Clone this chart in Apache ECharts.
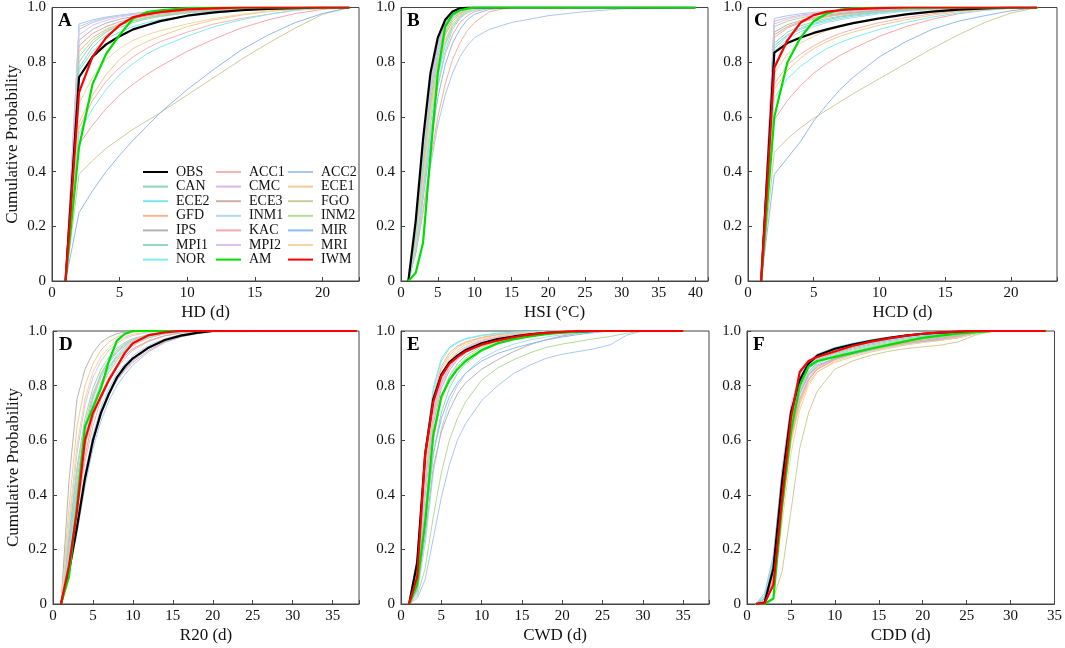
<!DOCTYPE html>
<html>
<head>
<meta charset="utf-8">
<script src="https://cdn.jsdelivr.net/npm/echarts@6/dist/echarts.min.js"></script>
<style>
  html, body { margin: 0; padding: 0; background: #fff; }
  #main { width: 1065px; height: 648px; }
</style>
</head>
<body>
<div id="main"></div>
<script>
// model order as in the legend (row by row)
var models = ['OBS','ACC1','ACC2','CAN','CMC','ECE1','ECE2','ECE3','FGO','GFD','INM1','INM2','IPS','KAC','MIR','MPI1','MPI2','MRI','NOR','AM','IWM'];

var colors = {
    OBS: '#000000', ACC1: '#f5b4b4', ACC2: '#a8c8ee', CAN: '#8ad4bd', CMC: '#dab6e6',
    ECE1: '#f2cc92', ECE2: '#78e6ec', ECE3: '#d2aea6', FGO: '#cccc98', GFD: '#f6b48e',
    INM1: '#b2d8ea', INM2: '#b2dc96', IPS: '#b4b4b4', KAC: '#f6a6ab', MIR: '#90baf0',
    MPI1: '#94d6c2', MPI2: '#dcc2f2', MRI: '#f0d6a0', NOR: '#84eaee', AM: '#00e000', IWM: '#ff0000'
};

// ---- A: HD ----
var hdX = [1,2,3,4,5,6,7,8,10,12,14,16,18,20,22];
var hd = {
    OBS:  [0,0.745,0.82,0.865,0.895,0.92,0.935,0.95,0.97,0.982,0.99,0.995,0.998,1],
    ACC1: [0,0.56,0.66,0.73,0.78,0.82,0.85,0.875,0.91,0.94,0.96,0.975,0.99,0.997],
    ACC2: [0,0.94,0.955,0.965,0.972,0.978,0.983,0.987,0.993,0.997],
    CAN:  [0,0.80,0.87,0.91,0.935,0.95,0.962,0.97,0.982,0.99,0.995,0.998],
    CMC:  [0,0.92,0.945,0.96,0.97,0.977,0.982,0.986,0.992,0.996,0.999],
    ECE1: [0,0.58,0.68,0.755,0.81,0.85,0.875,0.895,0.93,0.955,0.972,0.985,0.993,0.998],
    ECE2: [0,0.77,0.84,0.885,0.91,0.93,0.945,0.955,0.97,0.98,0.988,0.994,0.998],
    ECE3: [0,0.86,0.905,0.93,0.948,0.96,0.968,0.975,0.985,0.992,0.996,0.999],
    FGO:  [0,0.39,0.44,0.485,0.52,0.555,0.585,0.615,0.68,0.745,0.81,0.87,0.925,0.975],
    GFD:  [0,0.84,0.89,0.92,0.94,0.953,0.963,0.97,0.982,0.99,0.995,0.998],
    INM1: [0,0.93,0.95,0.962,0.97,0.976,0.981,0.985,0.991,0.995,0.998],
    INM2: [0,0.82,0.88,0.915,0.937,0.952,0.963,0.971,0.983,0.99,0.995,0.998],
    IPS:  [0,0.88,0.92,0.943,0.957,0.967,0.974,0.98,0.988,0.993,0.997],
    KAC:  [0,0.50,0.57,0.63,0.68,0.72,0.755,0.785,0.84,0.885,0.925,0.955,0.978,0.993],
    MIR:  [0,0.25,0.33,0.40,0.46,0.515,0.565,0.615,0.70,0.775,0.845,0.90,0.945,0.978],
    MPI1: [0,0.78,0.855,0.9,0.927,0.945,0.958,0.967,0.98,0.988,0.994,0.998],
    MPI2: [0,0.90,0.935,0.953,0.965,0.973,0.979,0.984,0.99,0.995,0.998],
    MRI:  [0,0.65,0.745,0.81,0.85,0.88,0.9,0.915,0.94,0.96,0.975,0.987,0.995],
    NOR:  [0,0.54,0.63,0.70,0.755,0.795,0.83,0.855,0.895,0.93,0.955,0.975,0.99,0.997],
    AM:   [0,0.49,0.72,0.83,0.90,0.96,0.983,0.99,0.998],
    IWM:  [0,0.69,0.82,0.89,0.935,0.965,0.975,0.983,0.993,0.997]
};

// ---- B: HSI ----
var hsiX = [1,2,3,4,5,6,7,8,9,10,12,15,20,25,30,40];
var hsi = {
    OBS:  [0,0.22,0.52,0.76,0.89,0.955,0.985,0.997],
    ACC1: [0,0.15,0.40,0.64,0.80,0.90,0.95,0.975,0.99,0.996],
    ACC2: [0,0.10,0.25,0.42,0.57,0.68,0.76,0.82,0.86,0.89,0.92,0.945,0.97,0.985,0.995],
    CAN:  [0,0.18,0.45,0.70,0.85,0.93,0.97,0.99,0.997],
    CMC:  [0,0.20,0.48,0.72,0.86,0.94,0.975,0.99],
    ECE1: [0,0.14,0.38,0.62,0.78,0.88,0.94,0.97,0.985,0.993],
    ECE2: [0,0.12,0.34,0.57,0.75,0.86,0.93,0.965,0.985,0.993],
    ECE3: [0,0.16,0.42,0.66,0.82,0.91,0.96,0.98,0.993],
    FGO:  [0,0.13,0.36,0.60,0.77,0.87,0.93,0.965,0.983,0.992],
    GFD:  [0,0.10,0.26,0.44,0.60,0.72,0.81,0.87,0.915,0.945,0.985],
    INM1: [0,0.17,0.43,0.68,0.83,0.92,0.965,0.985,0.995],
    INM2: [0,0.15,0.40,0.64,0.80,0.90,0.95,0.978,0.99,0.997],
    IPS:  [0,0.20,0.50,0.74,0.87,0.945,0.98,0.993],
    KAC:  [0,0.12,0.32,0.54,0.71,0.83,0.90,0.945,0.97,0.985,0.997],
    MIR:  [0,0.11,0.30,0.50,0.67,0.79,0.87,0.92,0.955,0.975,0.993],
    MPI1: [0,0.17,0.44,0.69,0.84,0.925,0.967,0.987,0.996],
    MPI2: [0,0.19,0.47,0.71,0.85,0.935,0.972,0.99,0.997],
    MRI:  [0,0.13,0.36,0.60,0.77,0.88,0.94,0.97,0.986,0.994],
    NOR:  [0,0.11,0.31,0.53,0.72,0.84,0.92,0.96,0.98,0.99,0.998],
    AM:   [0,0.03,0.14,0.46,0.76,0.93,0.975,0.99,0.996]
};

// ---- C: HCD ----
var hcdX = [1,2,3,4,5,6,7,8,10,12,14,16,18,20,22];
var hcd = {
    OBS:  [0,0.835,0.87,0.89,0.907,0.92,0.932,0.943,0.96,0.975,0.985,0.992,0.997],
    ACC1: [0,0.72,0.79,0.83,0.86,0.885,0.905,0.92,0.945,0.963,0.977,0.988,0.995],
    ACC2: [0,0.96,0.97,0.977,0.982,0.986,0.989,0.992,0.996,0.999],
    CAN:  [0,0.86,0.90,0.925,0.942,0.955,0.965,0.972,0.983,0.99,0.995,0.998],
    CMC:  [0,0.95,0.963,0.972,0.978,0.983,0.987,0.99,0.995,0.998],
    ECE1: [0,0.70,0.77,0.815,0.85,0.875,0.895,0.91,0.935,0.955,0.972,0.985,0.993,0.998],
    ECE2: [0,0.85,0.895,0.92,0.938,0.95,0.96,0.968,0.98,0.988,0.994,0.998],
    ECE3: [0,0.90,0.93,0.948,0.96,0.968,0.975,0.98,0.988,0.994,0.998],
    FGO:  [0,0.47,0.52,0.56,0.595,0.625,0.655,0.685,0.74,0.795,0.85,0.90,0.945,0.98],
    GFD:  [0,0.89,0.925,0.945,0.957,0.966,0.973,0.979,0.987,0.993,0.997],
    INM1: [0,0.84,0.885,0.912,0.93,0.945,0.955,0.963,0.977,0.986,0.993,0.997],
    INM2: [0,0.93,0.95,0.962,0.971,0.977,0.982,0.986,0.992,0.996,0.999],
    IPS:  [0,0.91,0.937,0.953,0.964,0.972,0.978,0.983,0.99,0.995,0.998],
    KAC:  [0,0.59,0.66,0.715,0.76,0.795,0.825,0.85,0.895,0.93,0.957,0.977,0.99,0.997],
    MIR:  [0,0.39,0.45,0.51,0.585,0.645,0.70,0.745,0.82,0.875,0.92,0.95,0.97,0.988],
    MPI1: [0,0.87,0.91,0.933,0.948,0.96,0.968,0.975,0.985,0.991,0.996,0.999],
    MPI2: [0,0.94,0.957,0.968,0.975,0.98,0.985,0.988,0.993,0.997],
    MRI:  [0,0.76,0.83,0.87,0.895,0.915,0.93,0.942,0.96,0.973,0.983,0.991,0.997],
    NOR:  [0,0.67,0.74,0.785,0.82,0.85,0.872,0.89,0.92,0.945,0.965,0.98,0.99,0.997],
    AM:   [0,0.60,0.80,0.89,0.95,0.978,0.992,0.997],
    IWM:  [0,0.78,0.88,0.945,0.972,0.985,0.99,0.994,0.998]
};

// ---- D: R20 ----
var r20X = [1,2,3,4,5,6,7,8,9,10,12,14,16,18,20,38];
var r20 = {
    OBS:  [0,0.12,0.28,0.46,0.60,0.70,0.77,0.83,0.87,0.90,0.94,0.967,0.983,0.993],
    ACC1: [0,0.15,0.34,0.52,0.65,0.75,0.82,0.865,0.90,0.93,0.962,0.982,0.993,0.998],
    ACC2: [0,0.11,0.26,0.43,0.57,0.67,0.745,0.80,0.84,0.875,0.925,0.958,0.978,0.99,0.997],
    CAN:  [0,0.22,0.45,0.64,0.76,0.84,0.89,0.925,0.95,0.967,0.985,0.995],
    CMC:  [0,0.20,0.43,0.62,0.75,0.83,0.885,0.92,0.945,0.963,0.983,0.994],
    ECE1: [0,0.35,0.65,0.80,0.88,0.93,0.96,0.978,0.988,0.995],
    ECE2: [0,0.20,0.42,0.60,0.73,0.81,0.87,0.91,0.94,0.958,0.98,0.992,0.998],
    ECE3: [0,0.16,0.36,0.54,0.68,0.77,0.83,0.875,0.91,0.935,0.965,0.983,0.993,0.998],
    FGO:  [0,0.24,0.48,0.66,0.77,0.845,0.895,0.93,0.953,0.968,0.986,0.995],
    GFD:  [0,0.17,0.38,0.57,0.70,0.79,0.85,0.893,0.925,0.948,0.975,0.99,0.997],
    INM1: [0,0.13,0.30,0.48,0.62,0.72,0.79,0.845,0.88,0.91,0.948,0.972,0.987,0.995],
    INM2: [0,0.19,0.41,0.60,0.72,0.81,0.865,0.905,0.935,0.955,0.98,0.992,0.998],
    IPS:  [0,0.45,0.75,0.86,0.92,0.958,0.978,0.99,0.996],
    KAC:  [0,0.13,0.30,0.47,0.60,0.70,0.77,0.82,0.855,0.885,0.93,0.96,0.98,0.992],
    MIR:  [0,0.12,0.28,0.45,0.59,0.69,0.765,0.82,0.86,0.892,0.937,0.965,0.983,0.993],
    MPI1: [0,0.25,0.50,0.68,0.79,0.86,0.905,0.937,0.958,0.972,0.988,0.996],
    MPI2: [0,0.28,0.55,0.73,0.83,0.89,0.93,0.955,0.972,0.984,0.995],
    MRI:  [0,0.30,0.58,0.75,0.85,0.905,0.94,0.963,0.978,0.988,0.997],
    NOR:  [0,0.18,0.40,0.58,0.71,0.80,0.86,0.90,0.93,0.952,0.977,0.99,0.997],
    AM:   [0,0.10,0.36,0.65,0.72,0.79,0.89,0.965,0.99],
    IWM:  [0,0.14,0.34,0.60,0.70,0.76,0.82,0.87,0.92,0.955,0.985,0.995]
};

// ---- E: CWD ----
var cwdX = [1,2,3,4,5,6,7,8,10,12,14,16,18,20,22,24,26,28,30,35];
var cwd = {
    OBS:  [0,0.15,0.55,0.75,0.84,0.885,0.91,0.93,0.955,0.97,0.98,0.988,0.993,0.996,0.998],
    ACC1: [0,0.12,0.47,0.71,0.83,0.89,0.922,0.942,0.966,0.979,0.988,0.994,0.997],
    ACC2: [0,0.02,0.09,0.24,0.39,0.51,0.60,0.66,0.745,0.80,0.845,0.875,0.90,0.915,0.925,0.935,0.95,0.985],
    CAN:  [0,0.08,0.35,0.62,0.76,0.835,0.88,0.91,0.945,0.965,0.978,0.987,0.993,0.997],
    CMC:  [0,0.11,0.45,0.70,0.82,0.88,0.915,0.937,0.963,0.977,0.986,0.992,0.996,0.999],
    ECE1: [0,0.13,0.50,0.74,0.86,0.91,0.94,0.956,0.975,0.985,0.992,0.996],
    ECE2: [0,0.17,0.56,0.79,0.90,0.94,0.96,0.972,0.985,0.992,0.996,0.999],
    ECE3: [0,0.09,0.40,0.66,0.79,0.855,0.895,0.92,0.952,0.97,0.982,0.99,0.995,0.998],
    FGO:  [0,0.07,0.33,0.60,0.745,0.825,0.87,0.90,0.94,0.962,0.976,0.986,0.992,0.996,0.999],
    GFD:  [0,0.14,0.52,0.76,0.87,0.92,0.945,0.96,0.977,0.987,0.993,0.997],
    INM1: [0,0.04,0.22,0.48,0.64,0.74,0.80,0.845,0.90,0.93,0.952,0.967,0.978,0.986,0.992,0.997],
    INM2: [0,0.03,0.13,0.32,0.48,0.60,0.68,0.74,0.82,0.865,0.895,0.92,0.94,0.952,0.962,0.972,0.98,0.992],
    IPS:  [0,0.05,0.25,0.50,0.63,0.71,0.77,0.81,0.86,0.895,0.925,0.95,0.968,0.982,0.992,0.998],
    KAC:  [0,0.10,0.43,0.69,0.81,0.87,0.905,0.93,0.958,0.974,0.984,0.991,0.995,0.998],
    MIR:  [0,0.05,0.30,0.55,0.68,0.76,0.81,0.845,0.89,0.918,0.937,0.953,0.967,0.978,0.987,0.994],
    MPI1: [0,0.06,0.28,0.55,0.70,0.79,0.845,0.88,0.925,0.952,0.968,0.98,0.988,0.994,0.998],
    MPI2: [0,0.10,0.42,0.68,0.80,0.865,0.90,0.925,0.955,0.972,0.983,0.99,0.995,0.998],
    MRI:  [0,0.12,0.48,0.72,0.845,0.90,0.93,0.95,0.97,0.982,0.99,0.995,0.998],
    NOR:  [0,0.16,0.55,0.78,0.89,0.935,0.957,0.97,0.983,0.99,0.995,0.998],
    AM:   [0,0.07,0.30,0.62,0.76,0.82,0.86,0.89,0.93,0.955,0.97,0.98,0.988,0.994,0.998],
    IWM:  [0,0.10,0.55,0.74,0.835,0.88,0.905,0.925,0.95,0.965,0.978,0.987,0.993,0.997]
};

// ---- F: CDD ----
var cddX = [1,2,3,4,5,6,7,8,10,12,14,16,18,20,22,24,26,28,34];
var cdd = {
    OBS:  [0,0.005,0.13,0.45,0.70,0.82,0.88,0.91,0.935,0.95,0.963,0.974,0.983,0.99,0.994,0.997,0.999],
    ACC1: [0,0.01,0.10,0.38,0.62,0.755,0.825,0.865,0.898,0.917,0.932,0.945,0.956,0.965,0.972,0.98,0.993],
    ACC2: [0,0.04,0.18,0.48,0.70,0.81,0.87,0.90,0.93,0.945,0.958,0.968,0.976,0.983,0.988,0.993,0.998],
    CAN:  [0,0.02,0.14,0.44,0.67,0.79,0.85,0.885,0.91,0.925,0.94,0.952,0.962,0.97,0.977,0.984,0.995],
    CMC:  [0,0.03,0.16,0.48,0.71,0.82,0.875,0.905,0.93,0.946,0.958,0.969,0.978,0.985,0.99,0.995,0.999],
    ECE1: [0,0.01,0.08,0.34,0.59,0.73,0.81,0.85,0.885,0.905,0.922,0.936,0.948,0.958,0.966,0.975,0.99],
    ECE2: [0,0.03,0.17,0.49,0.72,0.83,0.885,0.915,0.94,0.955,0.967,0.977,0.985,0.991,0.995,0.998],
    ECE3: [0,0.02,0.11,0.40,0.64,0.77,0.835,0.87,0.90,0.918,0.933,0.946,0.957,0.966,0.974,0.982,0.994],
    FGO:  [0,0,0.02,0.12,0.34,0.57,0.70,0.78,0.86,0.89,0.91,0.925,0.935,0.942,0.948,0.96,0.985],
    GFD:  [0,0.01,0.08,0.35,0.60,0.74,0.82,0.86,0.895,0.915,0.93,0.945,0.955,0.963,0.97,0.98,0.993],
    INM1: [0,0.02,0.13,0.43,0.66,0.78,0.845,0.88,0.908,0.925,0.94,0.952,0.963,0.972,0.98,0.987,0.997],
    INM2: [0,0.02,0.12,0.42,0.66,0.785,0.85,0.885,0.912,0.93,0.944,0.956,0.966,0.975,0.982,0.989,0.997],
    IPS:  [0,0.02,0.13,0.45,0.69,0.81,0.865,0.895,0.92,0.938,0.952,0.964,0.974,0.982,0.988,0.993,0.998],
    KAC:  [0,0.01,0.09,0.36,0.61,0.75,0.82,0.86,0.895,0.915,0.93,0.943,0.953,0.962,0.97,0.978,0.992],
    MIR:  [0,0.02,0.12,0.42,0.65,0.77,0.84,0.875,0.90,0.915,0.928,0.94,0.95,0.96,0.967,0.975,0.99],
    MPI1: [0,0.02,0.14,0.45,0.68,0.80,0.86,0.89,0.917,0.934,0.948,0.96,0.97,0.978,0.985,0.991,0.998],
    MPI2: [0,0.03,0.16,0.50,0.73,0.84,0.89,0.915,0.937,0.952,0.964,0.974,0.982,0.988,0.993,0.997],
    MRI:  [0,0.01,0.06,0.30,0.55,0.71,0.80,0.85,0.89,0.91,0.925,0.94,0.95,0.958,0.965,0.975,0.99],
    NOR:  [0,0.03,0.15,0.46,0.69,0.81,0.87,0.90,0.925,0.942,0.955,0.966,0.976,0.984,0.99,0.995,0.999],
    AM:   [0,0,0.02,0.36,0.63,0.80,0.87,0.89,0.905,0.92,0.935,0.948,0.962,0.975,0.983,0.99,0.996],
    IWM:  [0,0.003,0.07,0.39,0.68,0.85,0.89,0.905,0.925,0.945,0.96,0.972,0.982,0.99,0.995,0.998]
};

var panels = [
    {tag: 'A', xs: hdX,  ys: hd,  max: 22.7, name: 'HD (d)',   left: 52,  top: 7,   width: 307, height: 274},
    {tag: 'B', xs: hsiX, ys: hsi, max: 41.7, name: 'HSI (°C)', left: 401, top: 7,   width: 307, height: 274},
    {tag: 'C', xs: hcdX, ys: hcd, max: 23.5, name: 'HCD (d)',  left: 748, top: 7,   width: 309, height: 274},
    {tag: 'D', xs: r20X, ys: r20, max: 38.3, name: 'R20 (d)',  left: 53,  top: 331, width: 306, height: 273},
    {tag: 'E', xs: cwdX, ys: cwd, max: 38.2, name: 'CWD (d)',  left: 401, top: 331, width: 308, height: 273},
    {tag: 'F', xs: cddX, ys: cdd, max: 35,   name: 'CDD (d)',  left: 747, top: 331, width: 309, height: 273}
];

var font = 'Liberation Serif';
var bold = {OBS: 1, AM: 1, IWM: 1};
// thin lines first, then the bold ones on top
var drawOrder = models.filter(function (m) { return !bold[m]; }).concat(['OBS', 'AM', 'IWM']);

var grids = [], xAxes = [], yAxes = [], titles = [], series = [];

panels.forEach(function (p, k) {
    grids.push({left: p.left, top: p.top, width: p.width, height: p.height,
        show: true, borderColor: '#444', borderWidth: 1, backgroundColor: 'transparent'});
    xAxes.push({
        type: 'value', gridIndex: k, min: 0, max: p.max, interval: 5,
        name: p.name, nameLocation: 'middle', nameGap: 23,
        nameTextStyle: {fontFamily: font, fontSize: 17, color: '#111'},
        axisLine: {lineStyle: {color: '#444'}},
        axisTick: {inside: true, length: 4, lineStyle: {color: '#444'}},
        axisLabel: {fontFamily: font, fontSize: 15, color: '#111', margin: 5, showMaxLabel: true,
            formatter: function (v) { return Math.abs(v % 5) < 1e-9 ? String(v) : ''; }},
        splitLine: {show: false}
    });
    var leftCol = (k === 0 || k === 3);
    yAxes.push({
        type: 'value', gridIndex: k, min: 0, max: 1, interval: 0.2,
        name: leftCol ? 'Cumulative Probability' : '', nameLocation: 'middle', nameGap: 31,
        nameTextStyle: {fontFamily: font, fontSize: 17, color: '#111'},
        axisLine: {lineStyle: {color: '#444'}},
        axisTick: {inside: true, length: 4, lineStyle: {color: '#444'}},
        axisLabel: {fontFamily: font, fontSize: 15, color: '#111', margin: 6,
            formatter: function (v) { return v === 0 ? '0' : v.toFixed(1); }},
        splitLine: {show: false}
    });
    titles.push({text: p.tag, left: p.left + 1, top: p.top,
        textStyle: {fontFamily: font, fontSize: 19, fontWeight: 'bold', color: '#000'}});

    drawOrder.forEach(function (m) {
        var ys = p.ys[m];
        if (!ys) return;
        var data = p.xs.map(function (x, i) {
            return [x, i < ys.length ? ys[i] : 1];   // curves sit at 1 after their last listed value
        });
        series.push({
            type: 'line', name: m, xAxisIndex: k, yAxisIndex: k, data: data,
            symbol: 'none', silent: true,
            lineStyle: {color: colors[m], width: bold[m] ? 2.2 : 1},
            itemStyle: {color: colors[m]},
            z: bold[m] ? 5 : 2
        });
    });
});

function legendCol(names, left) {
    return {
        orient: 'vertical', left: left, top: 165, data: names,
        itemWidth: 25, itemHeight: 14, itemGap: 0.6, padding: 0,
        selectedMode: false,
        itemStyle: {opacity: 0},   // hide the marker, keep only the line
        textStyle: {fontFamily: font, fontSize: 14, color: '#111', lineHeight: 14, padding: [0, 0, 0, 3]}
    };
}

var myChart = echarts.init(document.getElementById('main'));
myChart.setOption({
    animation: false,
    backgroundColor: '#fff',
    title: titles,
    legend: [
        legendCol(['OBS','CAN','ECE2','GFD','IPS','MPI1','NOR'], 142),
        legendCol(['ACC1','CMC','ECE3','INM1','KAC','MPI2','AM'], 215),
        legendCol(['ACC2','ECE1','FGO','INM2','MIR','MRI','IWM'], 287)
    ],
    grid: grids,
    xAxis: xAxes,
    yAxis: yAxes,
    series: series
});
</script>
</body>
</html>
